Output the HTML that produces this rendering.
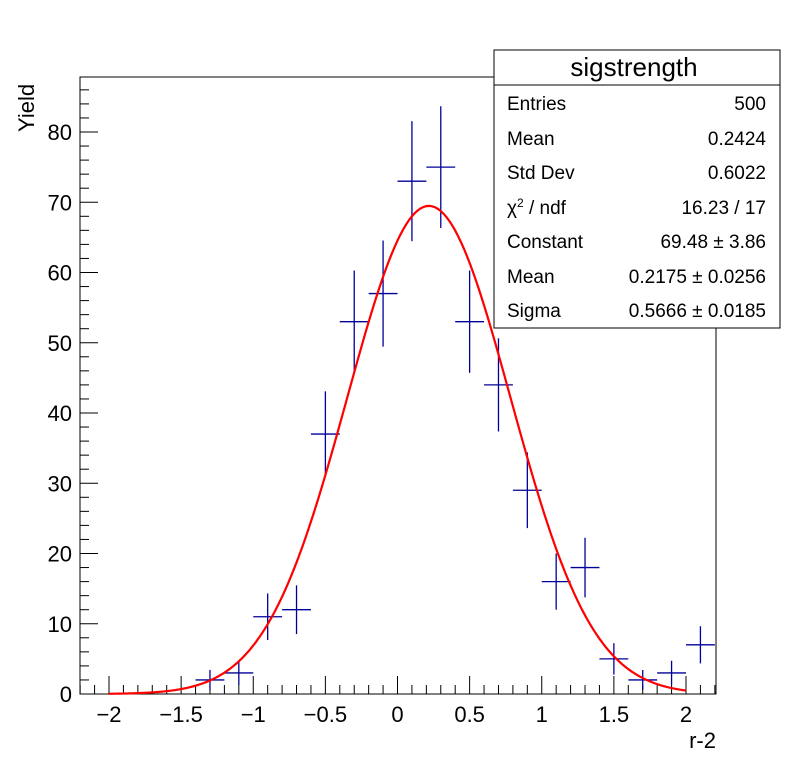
<!DOCTYPE html>
<html><head><meta charset="utf-8"><style>
body{margin:0;background:#fff}
svg text{font-family:"Liberation Sans",Arial,sans-serif}
</style></head><body>
<svg id="c" width="796" height="772" xmlns="http://www.w3.org/2000/svg">
<rect x="0" y="0" width="796" height="772" fill="#fff"/>
<rect x="80" y="77" width="636" height="617" fill="none" stroke="#000" stroke-width="1"/>
<g id="axes"></g>
<g id="marks"></g>
<path id="fit" fill="none" stroke="#ff0000" stroke-width="2.2"/>
<text x="716" y="748" font-size="22" text-anchor="end">r-2</text>
<text transform="translate(34,132) rotate(-90)" font-size="22" text-anchor="start">Yield</text>
<g>
<rect x="494" y="50" width="286" height="278" fill="#fff" stroke="#000"/>
<line x1="494" y1="85" x2="780" y2="85" stroke="#000"/>
<text x="634" y="76" font-size="26" text-anchor="middle">sigstrength</text>
<g font-size="19">
<text x="507" y="110">Entries</text><text x="766" y="110" text-anchor="end">500</text>
<text x="507" y="145">Mean</text><text x="766" y="145" text-anchor="end">0.2424</text>
<text x="507" y="179">Std Dev</text><text x="766" y="179" text-anchor="end">0.6022</text>
<text x="507" y="214">χ<tspan font-size="12" dy="-7">2</tspan><tspan dy="7"> / ndf</tspan></text><text x="766" y="214" text-anchor="end">16.23 / 17</text>
<text x="507" y="248">Constant</text><text x="766" y="248" text-anchor="end">69.48 ± 3.86</text>
<text x="507" y="283">Mean</text><text x="766" y="283" text-anchor="end">0.2175 ± 0.0256</text>
<text x="507" y="317">Sigma</text><text x="766" y="317" text-anchor="end">0.5666 ± 0.0185</text>
</g></g>
</svg>
<script>
const binCenters=[-1.3,-1.1,-0.9,-0.7,-0.5,-0.3,-0.1,0.1,0.3,0.5,0.7,0.9,1.1,1.3,1.5,1.7,1.9,2.1];
const counts=[2,3,11,12,37,53,57,73,75,53,44,29,16,18,5,2,3,7];
const xTickLabels=["\u22122","\u22121.5","\u22121","\u22120.5","0","0.5","1","1.5","2"];
const xTickValues=[-2,-1.5,-1,-0.5,0,0.5,1,1.5,2];
const yTickValues=[0,10,20,30,40,50,60,70,80];
const fitConstant=69.48, fitMean=0.2175, fitSigma=0.5666;
const binWidth=0.2;
const X=v=>397.5+v*144.25;
const Y=v=>694-v*7.025;
const NS="http://www.w3.org/2000/svg";
function mk(t,a,p){const e=document.createElementNS(NS,t);for(const k in a)e.setAttribute(k,a[k]);p.appendChild(e);return e;}
const ax=document.getElementById('axes');
for(let i=-22;i<=22;i++){const v=i/10;const major=(i%5===0);
 const l=mk('line',{x1:X(v),x2:X(v),y1:694,y2:major?676:685,stroke:'#000'},ax);
 }
xTickValues.forEach((v,i)=>{const t=mk('text',{x:X(v),y:722,'font-size':22,'text-anchor':'middle'},ax);t.textContent=xTickLabels[i];
 });
for(let v=0;v<=86;v+=2){const major=(v%10===0);
 const l=mk('line',{x1:80,x2:major?98:89,y1:Y(v),y2:Y(v),stroke:'#000'},ax);
 }
yTickValues.forEach(v=>{const t=mk('text',{x:72,y:Y(v)+8,'font-size':22,'text-anchor':'end'},ax);t.textContent=v;
 });
const mg=document.getElementById('marks');
binCenters.forEach((c,i)=>{const n=counts[i],e=Math.sqrt(n);
 const g=mk('g',{stroke:'#000099','stroke-width':1.3},mg);
 
 mk('line',{x1:X(c-binWidth/2),x2:X(c+binWidth/2),y1:Y(n),y2:Y(n)},g);
 mk('line',{x1:X(c),x2:X(c),y1:Y(n-e),y2:Y(n+e)},g);});
let d='';for(let i=0;i<=200;i++){const v=-2+4*i/200;const f=fitConstant*Math.exp(-0.5*((v-fitMean)/fitSigma)**2);d+=(i?'L':'M')+X(v).toFixed(2)+' '+Y(f).toFixed(2);}
document.getElementById('fit').setAttribute('d',d);
</script>
</body></html>
